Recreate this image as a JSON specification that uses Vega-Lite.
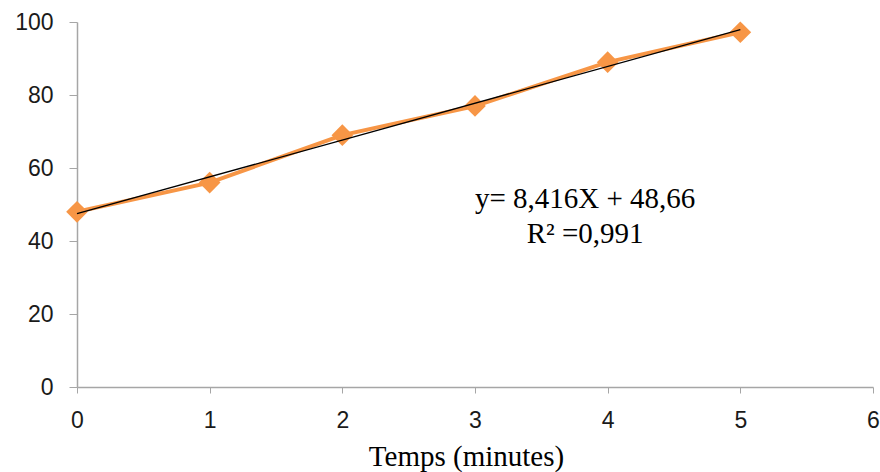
{
  "$schema": "https://vega.github.io/schema/vega-lite/v6.json",
  "width": 796,
  "height": 365,
  "autosize": {"type": "none"},
  "padding": {"left": 77, "top": 22, "right": 7, "bottom": 85},
  "background": "white",
  "config": {"view": {"stroke": null}},
  "datasets": {
    "pts": [
      {"t": 0, "v": 48},
      {"t": 1, "v": 56},
      {"t": 2, "v": 69},
      {"t": 3, "v": 77},
      {"t": 4, "v": 89},
      {"t": 5, "v": 97.2}
    ],
    "ann": [
      {"t": 3.83, "v": 51.5, "label": "y= 8,416X + 48,66"},
      {"t": 3.83, "v": 42.0, "label": "R² =0,991"}
    ]
  },
  "layer": [
    {
      "data": {"name": "pts"},
      "mark": {"type": "line", "color": "#F79646", "strokeWidth": 4},
      "encoding": {
        "x": {
          "field": "t", "type": "quantitative",
          "scale": {"domain": [0, 6], "nice": false},
          "axis": {
            "title": "Temps (minutes)",
            "titleFont": "Liberation Serif", "titleFontSize": 29, "titleFontWeight": "normal",
            "titleColor": "#000000", "titlePadding": 10, "titleX": 389,
            "values": [0, 1, 2, 3, 4, 5, 6], "format": "d", "labelFlush": false,
            "grid": false, "domainColor": "#a6a6a6", "domainWidth": 1.5,
            "tickColor": "#a6a6a6", "tickSize": 6, "tickWidth": 1,
            "labelFont": "Liberation Sans", "labelFontSize": 23, "labelColor": "#1a1a1a",
            "labelPadding": 16
          }
        },
        "y": {
          "field": "v", "type": "quantitative",
          "scale": {"domain": [0, 100], "nice": false},
          "axis": {
            "title": null,
            "values": [0, 20, 40, 60, 80, 100], "labelFlush": false,
            "grid": false, "domainColor": "#a6a6a6", "domainWidth": 1.5,
            "tickColor": "#a6a6a6", "tickSize": 8, "tickWidth": 1,
            "labelFont": "Liberation Sans", "labelFontSize": 23, "labelColor": "#1a1a1a",
            "labelPadding": 16
          }
        }
      }
    },
    {
      "data": {"name": "pts"},
      "mark": {"type": "point", "shape": "diamond", "filled": true, "color": "#F79646", "size": 470, "opacity": 1},
      "encoding": {
        "x": {"field": "t", "type": "quantitative"},
        "y": {"field": "v", "type": "quantitative"}
      }
    },
    {
      "data": {"name": "pts"},
      "transform": [{"regression": "v", "on": "t"}],
      "mark": {"type": "line", "color": "#000000", "strokeWidth": 1.3},
      "encoding": {
        "x": {"field": "t", "type": "quantitative"},
        "y": {"field": "v", "type": "quantitative"}
      }
    },
    {
      "data": {"name": "ann"},
      "mark": {"type": "text", "font": "Liberation Serif", "fontSize": 29, "color": "#000000", "align": "center", "baseline": "middle"},
      "encoding": {
        "x": {"field": "t", "type": "quantitative"},
        "y": {"field": "v", "type": "quantitative"},
        "text": {"field": "label"}
      }
    }
  ]
}
